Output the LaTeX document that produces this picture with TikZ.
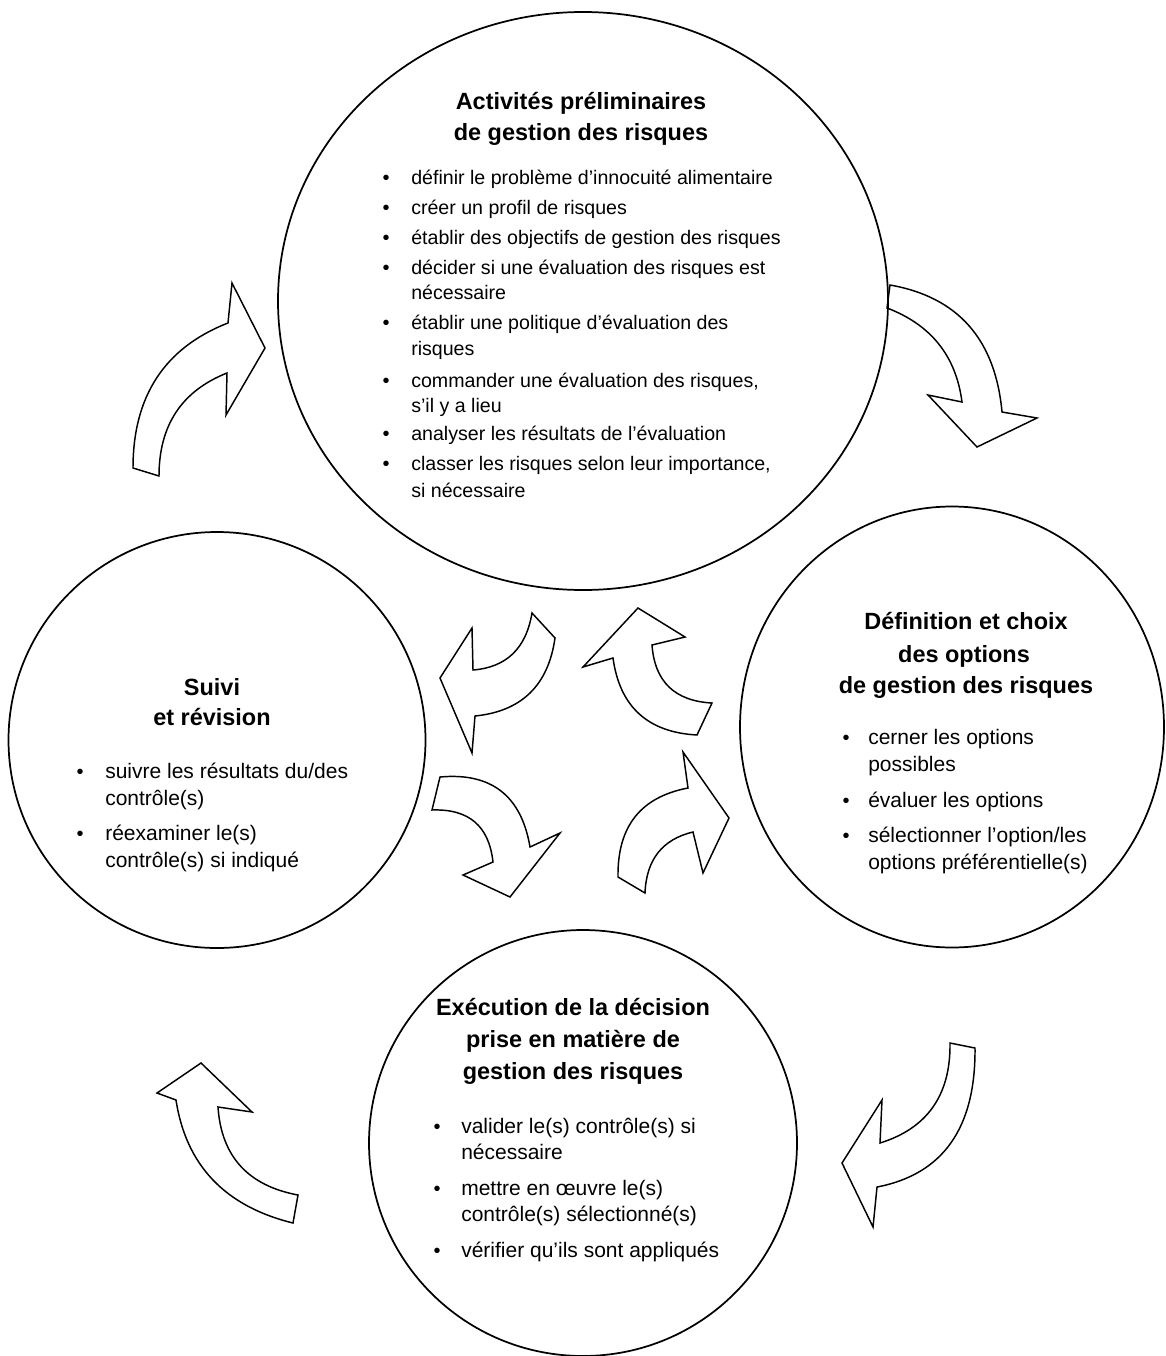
\documentclass[tikz,border=0pt]{standalone}
\usepackage{fontspec}
\setmainfont{Liberation Sans}
\usetikzlibrary{shapes.geometric}

\begin{document}
\begin{tikzpicture}[x=0.75pt,y=-0.75pt,
  ring/.style={draw, ellipse, line width=1.3pt, inner sep=0pt},
  blockarrow/.style={draw, fill=white, line width=1.1pt, line join=miter},
  ttl/.style={font=\bfseries\fontsize{17.6}{22}\selectfont, anchor=mid, inner sep=0pt},
  txt/.style={font=\fontsize{15.75}{19}\selectfont, anchor=mid west, inner sep=0pt},
  txtsm/.style={font=\fontsize{14.7}{18}\selectfont, anchor=mid west, inner sep=0pt},
  bul/.style={font=\fontsize{15}{18}\selectfont, anchor=mid, inner sep=0pt}]

\fill[white] (0,0) rectangle (1166,1356);
\useasboundingbox (0,0) rectangle (1166,1356);

% ---- curved block arrows around the cycle ----
% top-left: towards the preliminary activities
\draw[blockarrow] (133,468) .. controls (133,396) and (164.7,347.7) .. (228,323)
  -- (232,283) -- (265,348) -- (226,415)
  -- (227,373) .. controls (181.7,391) and (159,425.3) .. (159,476) -- cycle;
% top-right
\draw[blockarrow] (890,285) .. controls (958,297) and (995.3,339.3) .. (1002,412)
  -- (1037,418) -- (977,447) -- (928,395)
  -- (962,402) .. controls (956,356) and (931,324.7) .. (887,308) -- cycle;
% bottom-right
\draw[blockarrow] (975,1048) .. controls (975.7,1128) and (943,1174.3) .. (877,1187)
  -- (873,1227) -- (842,1163) -- (882,1100)
  -- (880,1143) .. controls (927.3,1128.3) and (950.7,1095) .. (950,1043) -- cycle;
% bottom-left
\draw[blockarrow] (293,1223) .. controls (225,1206.3) and (186,1165.3) .. (176,1100)
  -- (157,1093) -- (201,1063) -- (252,1112)
  -- (218,1107) .. controls (221.3,1156.3) and (248,1185.7) .. (298,1195) -- cycle;

% ---- inner arrows ----
\draw[blockarrow] (555,638) .. controls (548.3,685.3) and (521.7,711.3) .. (475,716)
  -- (472,753) -- (440,678) -- (472,628)
  -- (473,670) .. controls (506.3,667.3) and (526,648.7) .. (532,613) -- cycle;
\draw[blockarrow] (697,735) .. controls (647.7,732.3) and (619.7,706.7) .. (613,658)
  -- (583,667) -- (638,608) -- (685,637)
  -- (652,645) .. controls (654.7,681.7) and (674.7,701) .. (712,703) -- cycle;
\draw[blockarrow] (440,777) .. controls (491.3,772.3) and (521.3,795.7) .. (530,847)
  -- (560,833) -- (510,897) -- (463,875)
  -- (493,862) .. controls (489,826) and (469,808.7) .. (432,810) -- cycle;
\draw[blockarrow] (618,877) .. controls (617.3,826.3) and (640.7,797) .. (688,788)
  -- (683,752) -- (729,818) -- (703,873)
  -- (693,832) .. controls (662.3,839.3) and (646.3,859.7) .. (645,893) -- cycle;

% ---- the four stages ----
\node[ring, minimum width=457.5pt, minimum height=433.5pt] (act) at (583,301) {};
\node[ring, minimum width=312.75pt, minimum height=312pt] (suivi) at (217,740) {};
\node[ring, minimum width=318pt, minimum height=330.75pt] (choix) at (952,727) {};
\node[ring, minimum width=321pt, minimum height=319.5pt] (exec) at (583,1143) {};

\begin{scope}[shift={(0,4)}]
% preliminary activities
\node[ttl] (actT1) at (581,102) {Activités préliminaires};
\node[ttl] (actT2) at (581,133) {de gestion des risques};
\node[bul] (ab1) at (386,177) {•};
\node[txtsm] (al1) at (411,177) {définir le problème d’innocuité alimentaire};
\node[bul] (ab2) at (386,207) {•};
\node[txtsm] (al2) at (411,207) {créer un profil de risques};
\node[bul] (ab3) at (386,237) {•};
\node[txtsm] (al3) at (411,237) {établir des objectifs de gestion des risques};
\node[bul] (ab4) at (386,267) {•};
\node[txtsm] (al4) at (411,267) {décider si une évaluation des risques est};
\node[txtsm] (al4b) at (411,292) {nécessaire};
\node[bul] (ab5) at (386,322) {•};
\node[txtsm] (al5) at (411,322) {établir une politique d’évaluation des};
\node[txtsm] (al5b) at (411,348) {risques};
\node[bul] (ab6) at (386,380) {•};
\node[txtsm] (al6) at (411,380) {commander une évaluation des risques,};
\node[txtsm] (al6b) at (411,405) {s’il y a lieu};
\node[bul] (ab7) at (386,433) {•};
\node[txtsm] (al7) at (411,433) {analyser les résultats de l’évaluation};
\node[bul] (ab8) at (386,463) {•};
\node[txtsm] (al8) at (411,463) {classer les risques selon leur importance,};
\node[txtsm] (al8b) at (411,490) {si nécessaire};

% options
\node[ttl] (chT1) at (966,622) {Définition et choix};
\node[ttl] (chT2) at (964,655) {des options};
\node[ttl] (chT3) at (966,686) {de gestion des risques};
\node[bul] (cb1) at (846,737) {•};
\node[txt] (cl1) at (868,737) {cerner les options};
\node[txt] (cl1b) at (868,764) {possibles};
\node[bul] (cb2) at (846,800) {•};
\node[txt] (cl2) at (868,800) {évaluer les options};
\node[bul] (cb3) at (846,835) {•};
\node[txt] (cl3) at (868,835) {sélectionner l’option/les};
\node[txt] (cl3b) at (868,862) {options préférentielle(s)};

% monitoring
\node[ttl] (suT1) at (212,688) {Suivi};
\node[ttl] (suT2) at (212,718) {et révision};
\node[bul] (sb1) at (80,771) {•};
\node[txt] (sl1) at (105,771) {suivre les résultats du/des};
\node[txt] (sl1b) at (105,798) {contrôle(s)};
\node[bul] (sb2) at (80,833) {•};
\node[txt] (sl2) at (105,833) {réexaminer le(s)};
\node[txt] (sl2b) at (105,860) {contrôle(s) si indiqué};

% implementation
\node[ttl] (exT1) at (573,1008) {Exécution de la décision};
\node[ttl] (exT2) at (573,1040) {prise en matière de};
\node[ttl] (exT3) at (573,1072) {gestion des risques};
\node[bul] (eb1) at (437,1126) {•};
\node[txt] (el1) at (461,1126) {valider le(s) contrôle(s) si};
\node[txt] (el1b) at (461,1152) {nécessaire};
\node[bul] (eb2) at (437,1188) {•};
\node[txt] (el2) at (461,1188) {mettre en œuvre le(s)};
\node[txt] (el2b) at (461,1214) {contrôle(s) sélectionné(s)};
\node[bul] (eb3) at (437,1250) {•};
\node[txt] (el3) at (461,1250) {vérifier qu’ils sont appliqués};
\end{scope}
\end{tikzpicture}
\end{document}
